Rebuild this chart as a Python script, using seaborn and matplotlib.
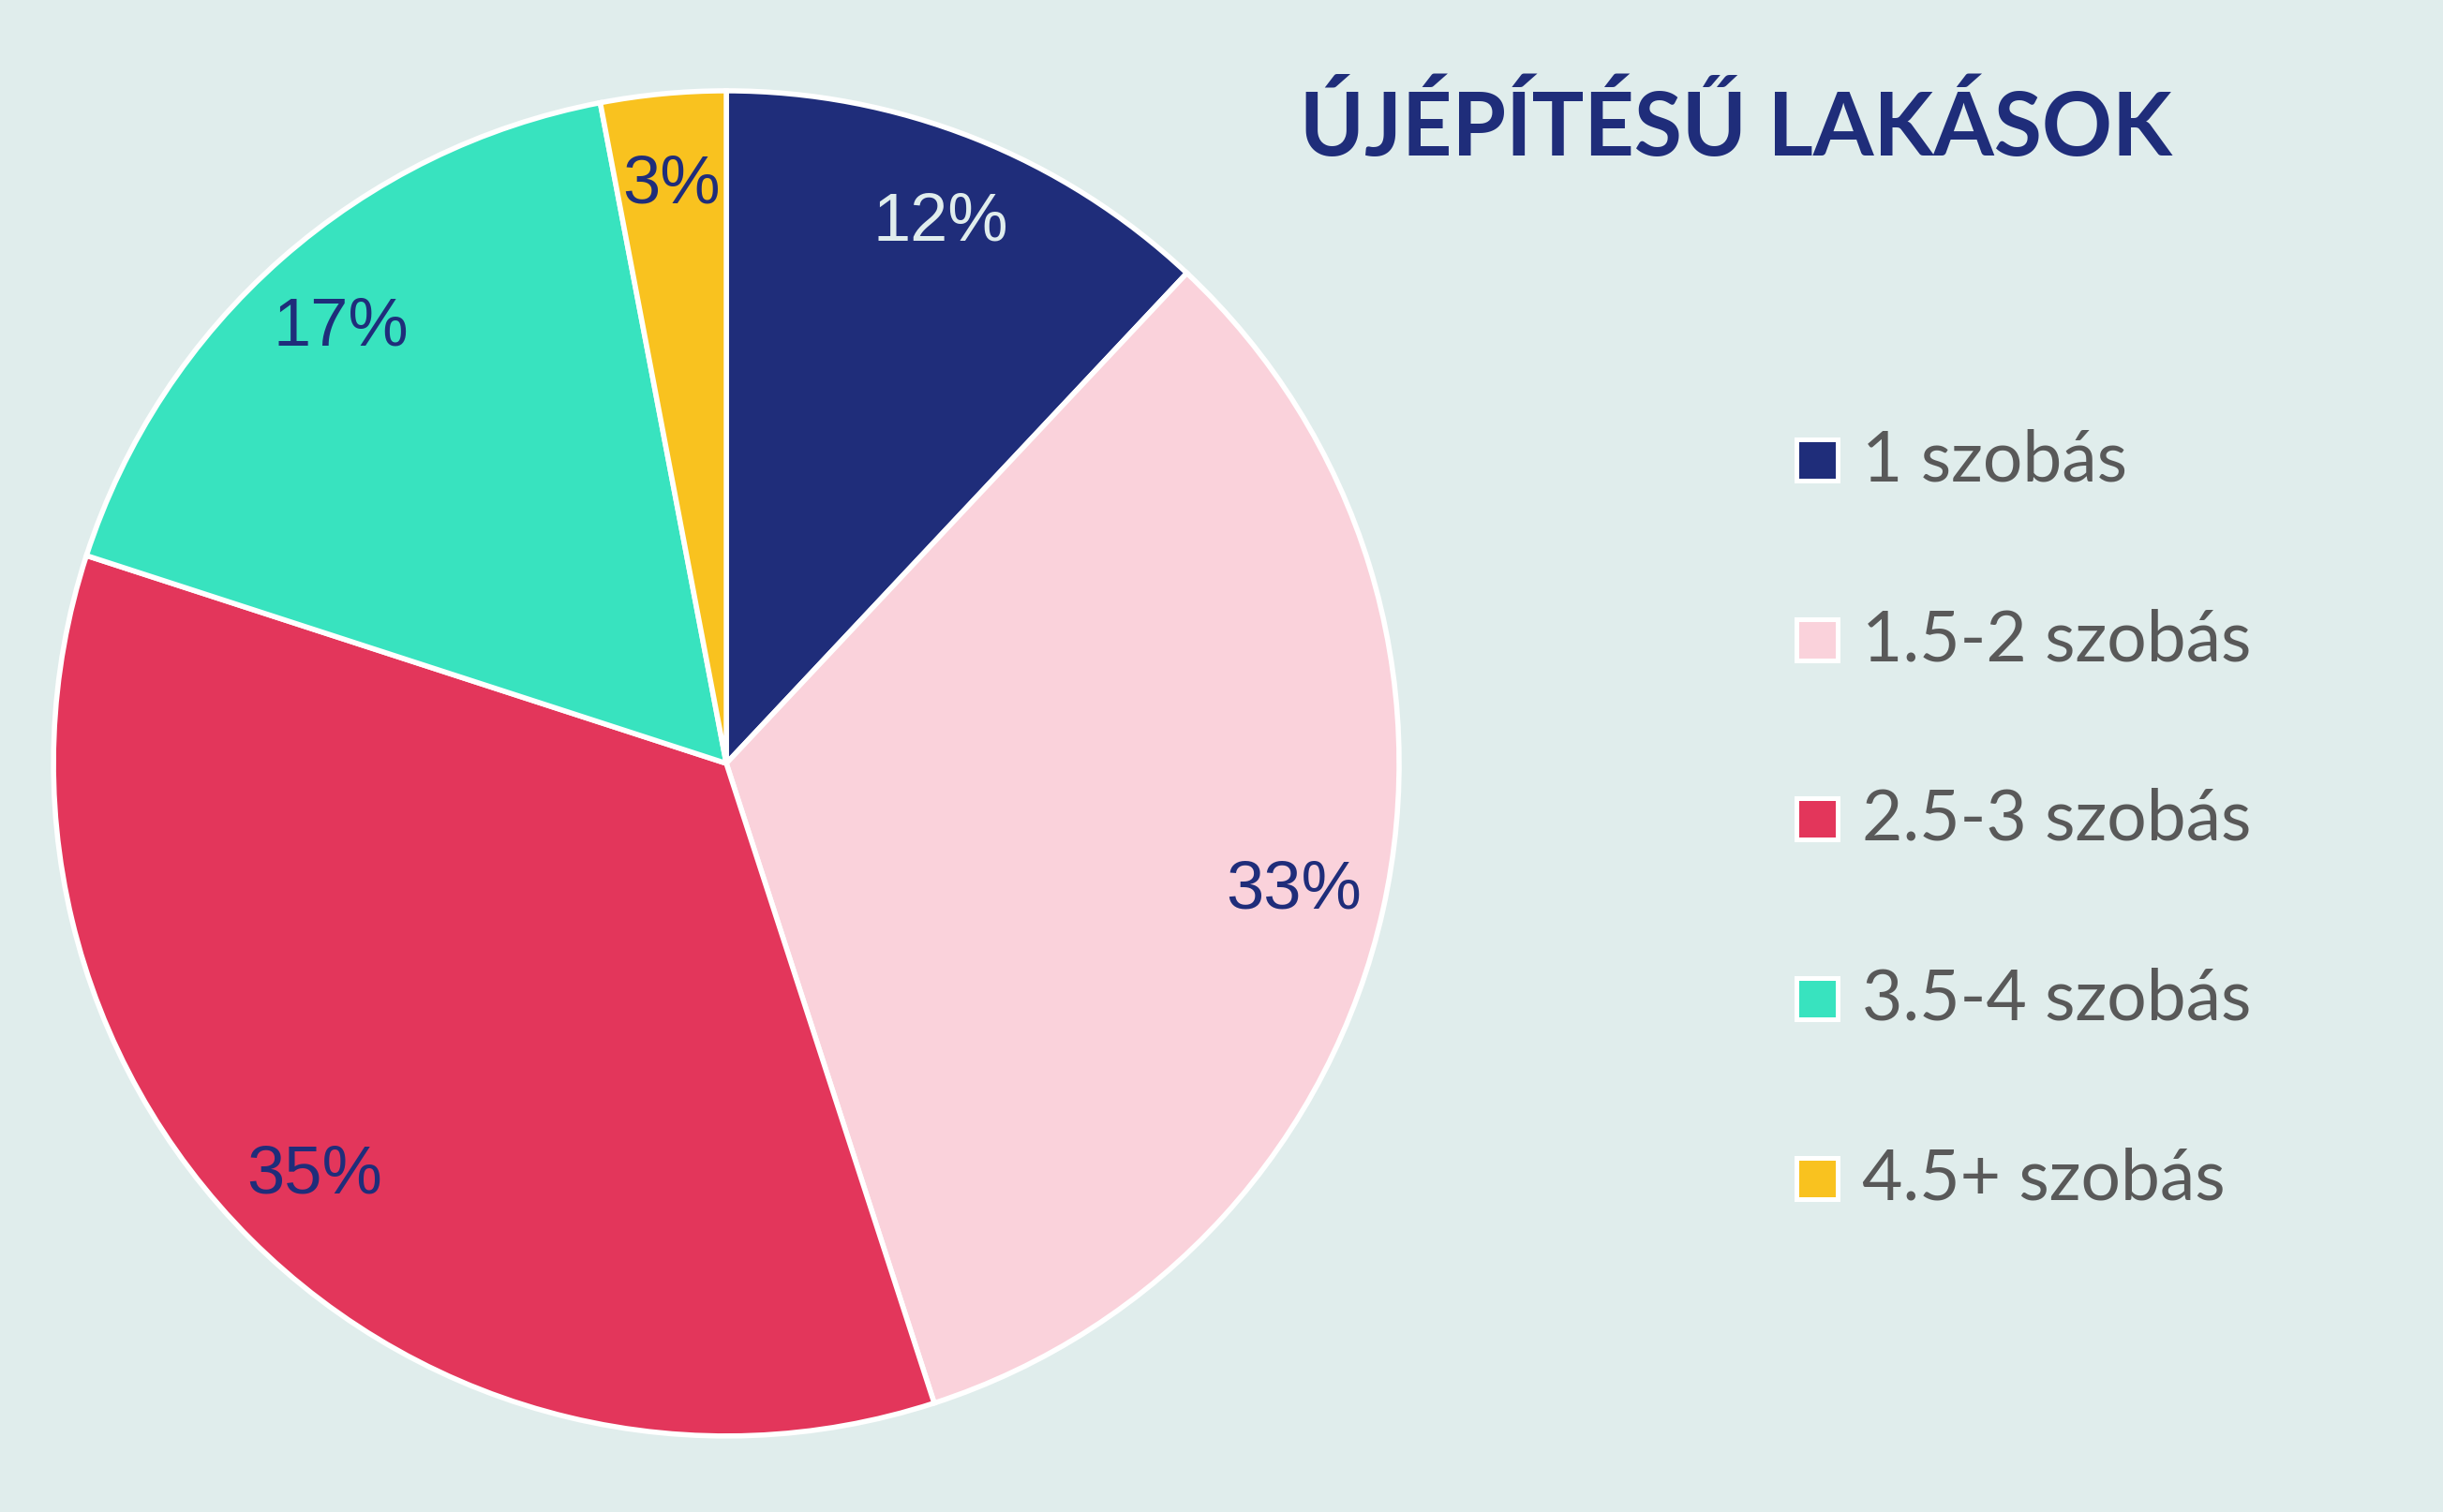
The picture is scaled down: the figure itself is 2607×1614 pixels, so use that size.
import matplotlib.pyplot as plt
import numpy as np
import seaborn as sns
from matplotlib.patches import Rectangle

categories = ['1 szobás', '1.5-2 szobás', '2.5-3 szobás', '3.5-4 szobás', '4.5+ szobás']
shares = [12, 33, 35, 17, 3]
label_texts = ['12%', '33%', '35%', '17%', '3%']
title = 'ÚJÉPÍTÉSŰ LAKÁSOK'

bg = '#E0EDEC'
navy = '#1F2D7A'
palette = sns.color_palette(['#1F2D7A', '#FAD2DB', '#E3365B', '#38E3BF', '#F9C21F'])
label_colors = ['#E0EDED', navy, navy, navy, navy]

sns.set_theme(style='white', rc={'figure.facecolor': bg, 'axes.facecolor': bg})
plt.rcParams['font.family'] = ['Lato', 'DejaVu Sans']

fig = plt.figure(figsize=(26.07, 16.15), dpi=100)

# Pie on the left.
ax = fig.add_axes([0.0219, 0.0502, 0.5508, 0.8892])
wedges, texts = ax.pie(shares, colors=palette, startangle=90, counterclock=False,
                       radius=1, wedgeprops=dict(edgecolor='white', linewidth=4))
for w, txt, col in zip(wedges, label_texts, label_colors):
    w.set_clip_on(False)
    mid = np.deg2rad((w.theta1 + w.theta2) / 2)
    ax.text(0.865 * np.cos(mid), 0.865 * np.sin(mid), txt, ha='center', va='center',
            fontsize=52, color=col, family=['Liberation Sans', 'DejaVu Sans'])
ax.set_xlim(-1, 1)
ax.set_ylim(-1, 1)
ax.set_aspect('equal')
ax.axis('off')

# Title.
fig.text(0.7105, 0.897, title, ha='center', va='baseline', fontsize=67,
         fontweight='bold', color=navy)

# Legend drawn by hand, one row per category.
sq_w, sq_h = 44 / 2607, 44 / 1615
for i, (cat, col) in enumerate(zip(categories, palette)):
    y = 0.6954 - i * 0.1187
    fig.add_artist(Rectangle((0.7438 - sq_w / 2, y - sq_h / 2), sq_w, sq_h,
                             transform=fig.transFigure, facecolor=col,
                             edgecolor='white', linewidth=3.6))
    fig.text(0.7622, y, cat, ha='left', va='center', fontsize=54, color='#595959')

fig.savefig('out.png', dpi=100, facecolor=bg)
